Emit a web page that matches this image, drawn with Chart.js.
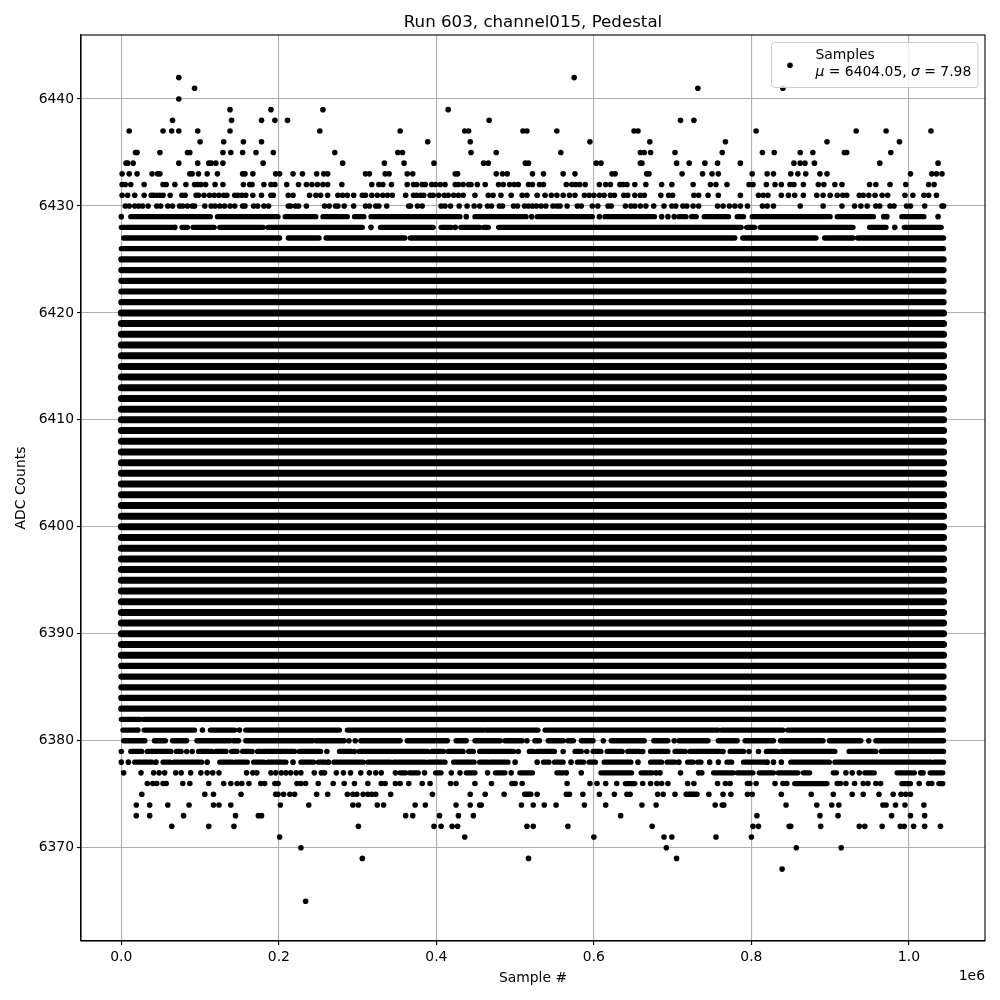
<!DOCTYPE html>
<html>
<head>
<meta charset="utf-8">
<title>Run 603, channel015, Pedestal</title>
<script src="https://cdn.jsdelivr.net/npm/chart.js@4/dist/chart.umd.js"></script>
<style>
  html, body { margin: 0; padding: 0; background: #fff; }
  canvas { display: block; }
</style>
</head>
<body>
<canvas id="chart" width="1000" height="1000"></canvas>
<script>
// x values are in thousands of samples, a plain number is one sample, a pair is an unbroken run
const adc6442 = [73, 575];
const adc6441 = [93, 732, 840];
const adc6440 = [73];
const adc6439 = [138, 190, 256, 415];
const adc6438 = [65, 140, 178, 195, 211, 467, 710, 727];
const adc6437 = [10, 53, 64, 73, 97, 138, 252, 354, 436, 441, 510, 515, 553, 651, 656, 806, 933, 971, 1028];
const adc6436 = [100, 130, 155, 178, 389, 443, 595, 671, 767, 896, 988];
const adc6435 = [18, 20, 49, 84, 87, 129, 139, 154, 171, 193, 271, 351, 357, 444, 476, 558, 659, 664, 672, 703, 763, 814, 829, 862, 878, 918, 921, 977];
const adc6434 = [6, 8, 15, 73, 97, 111, 114, 120, 129, 180, 281, 334, 359, 397, 460, 466, 513, 517, 603, 609, 659, 661, 705, 721, 741, 757, 786, 854, 862, 868, 880, 963, 1037];
const adc6433 = [1, 10, 20, 39, 46, 49, 87, 90, 98, 109, 122, 154, 157, 167, 196, 201, 218, 230, 248, 257, 262, 310, 315, 335, 340, 363, 370, 424, 427, 476, 484, 490, 522, 536, 561, 576, 623, 627, 667, 670, 712, 738, 750, 758, 801, 820, 828, 850, 859, 869, 887, 896, 1002, 1029, 1035, 1042];
const adc6432 = [1, 5, 12, 29, 53, 57, 68, 82, 93, 97, 101, 107, 119, 129, 155, 163, 166, 181, 190, 195, 210, 225, 235, 242, 249, 256, 262, 280, 318, 327, 332, 343, 363, 371, 375, 382, 386, 394, 399, 405, 411, 424, 428, 434, 441, 444, 452, 462, 479, 485, 493, 499, 504, 517, 522, 531, 536, 565, 572, 577, 582, 589, 607, 615, 621, 633, 637, 642, 652, 666, 686, 699, 726, 748, 755, 769, 797, 802, 819, 830, 838, 849, 854, 866, 885, 892, 906, 915, 950, 958, 976, 996, 1025, 1032];
const adc6431 = [1, 8, 17, 29, 38, 41, 45, 49, 53, 62, 77, 81, 95, 98, 105, 112, 118, 124, 130, 134, 144, 148, 153, 158, 167, 178, 190, 193, 212, 218, 239, 247, 253, 262, 275, 281, 287, 295, 306, 310, 318, 325, 332, 338, 344, 361, 371, 375, 380, 384, 392, 396, 403, 410, 415, 422, 428, 434, 449, 466, 472, 482, 495, 509, 515, 528, 538, 546, 553, 561, 569, 576, 588, 594, 600, 607, 613, 621, 626, 638, 643, 652, 659, 664, 685, 695, 700, 727, 733, 745, 758, 786, 809, 815, 821, 838, 847, 855, 866, 883, 891, 900, 909, 916, 921, 937, 942, 949, 957, 966, 973, 995, 1005, 1019, 1025, 1035];
const adc6430 = [5, 10, 17, 22, 27, 34, 45, 50, 59, 65, 74, 78, 84, 90, 93, 106, 114, 119, 125, 131, 138, 144, 154, 157, 168, 173, 181, 187, 212, 215, 221, 225, 235, 258, 264, 272, 275, 283, 295, 310, 315, 323, 327, 337, 365, 367, 376, 382, 406, 411, 418, 429, 439, 448, 455, 465, 470, 480, 484, 498, 503, 512, 517, 522, 527, 533, 539, 548, 553, 557, 566, 579, 584, 598, 605, 618, 622, 640, 647, 652, 659, 666, 676, 689, 699, 704, 713, 718, 726, 733, 757, 764, 772, 779, 786, 795, 814, 820, 828, 862, 891, 915, 931, 939, 947, 958, 963, 976, 981, 997, 1002, 1020, 1042, 1044];
const adc6429 = [0, [12, 113], [122, 199], [208, 247], [256, 287], [296, 308], [317, 430], 438, [449, 514], 521, [528, 598], 607, [614, 677], 686, 694, 702, [708, 717], [724, 730], [740, 771], [782, 790], [801, 900], [909, 955], 968, 972, [991, 1019], 1037];
const adc6428 = [[0, 65], 68, [77, 84], [91, 118], [125, 180], [186, 306], 317, [329, 396], [406, 419], 424, [431, 455], [460, 466], [479, 787], [794, 804], [811, 929], [950, 971], 982, [994, 1041]];
const adc6427 = [[3, 201], [212, 251], [260, 360], [367, 779], [789, 882], [893, 929], [935, 1044]];
const adc6426 = [[0, 1044]];
const adc6382 = [[0, 24], [28, 1044]];
const adc6381 = [[2, 18], 21, [29, 93], 103, [113, 144], 150, [158, 277], [287, 460], [463, 529], [538, 758], [762, 840], [846, 1044]];
const adc6380 = [[3, 30], [42, 56], [65, 83], [96, 138], [142, 149], [158, 243], [247, 283], 289, 297, [304, 354], [363, 414], [425, 438], [449, 481], [487, 509], 515, [525, 531], [542, 561], [567, 574], [584, 599], 612, [622, 664], [676, 694], 702, [708, 745], [758, 782], [792, 828], [837, 891], [899, 939], 949, [958, 1044]];
const adc6379 = [0, [12, 26], [33, 63], [70, 76], 83, 90, [98, 115], [120, 133], [140, 147], [154, 163], 166, [173, 220], [226, 253], 261, [277, 292], 296, [302, 389], [394, 409], [415, 434], [441, 447], [455, 498], 504, [518, 523], [528, 550], 561, [576, 584], 591, [599, 609], [617, 636], [643, 658], 662, [672, 694], [703, 716], [722, 762], 764, [773, 790], 797, 809, [819, 833], [838, 906], [924, 958], [965, 1044]];
const adc6378 = [0, 9, [17, 39], 44, [53, 62], [67, 102], 109, [125, 141], [145, 160], [168, 181], [186, 209], 218, [228, 244], [250, 259], 263, [270, 307], [313, 342], [346, 386], [390, 411], [422, 448], [455, 465], [468, 491], 500, 528, [536, 543], [550, 561], 571, [579, 587], [594, 602], [613, 647], 656, [672, 686], [693, 703], 708, [719, 726], [732, 736], 747, 758, [769, 775], [790, 817], 820, 828, 838, [850, 899], [906, 1028], [1032, 1044]];
const adc6377 = [3, 25, 41, 48, 55, 69, 76, 88, 101, 109, 116, 124, 159, 167, 172, 190, 196, 203, 209, 215, 222, 228, 245, 254, 258, 273, 282, 291, 304, 315, 323, 330, 348, [354, 361], [366, 377], 385, [399, 406], 419, 430, [438, 449], 465, [475, 487], 495, [506, 522], [553, 561], 565, 584, [609, 648], [660, 674], 679, 684, 710, 733, 737, [752, 777], [782, 802], [810, 828], [834, 859], [866, 874], [904, 908], 920, 928, 937, [944, 956], [985, 1007], 1015, 1018, [1027, 1043]];
const adc6376 = [33, 40, 45, 53, 57, 78, 87, 111, 130, 139, 147, 153, 162, 177, 182, 195, 199, 223, 228, 234, 250, 269, 283, 296, 313, 330, 335, 348, 354, 365, 382, 392, 418, 425, 449, 470, 496, 500, 509, 566, 595, 604, 615, 629, [640, 652], 662, 672, 680, 686, 694, 719, 727, 757, 767, 773, 795, 798, 806, 830, 840, 845, [855, 896], 909, 913, 920, 931, 942, 948, 958, 964, [991, 1002], 1013, 1025, 1029, [1038, 1043]];
const adc6375 = [26, 106, 117, 152, 196, 199, 206, 214, 220, 248, 262, 287, 294, 299, 307, 313, 318, 323, 342, 395, 443, 462, 486, [512, 520], 528, 565, 569, 586, 607, 626, 642, 646, 681, 688, 703, [717, 731], 746, 764, 774, 795, 801, 838, 876, 904, 928, 942, 962, 980, 990, 996, 1002];
const adc6374 = [19, 36, 59, 86, 117, 124, 139, 202, 238, 294, 301, 325, 333, 373, 386, 425, 443, 455, 457, 508, 523, 537, 552, 588, 615, 661, 679, 754, 763, 765, 844, 883, 902, 911, 967, 971, 983, 995, 1019];
const adc6373 = [19, 36, 79, 145, 174, 178, 361, 370, 404, 428, 447, 634, 807, 887, 910, 978, 1002, 1020];
const adc6372 = [64, 111, 143, 301, 397, 406, 420, 427, 515, 523, 567, 674, 802, 809, 848, 850, 888, 937, 944, 966, 989, 994, 1006, 1020, 1040];
const adc6371 = [201, 436, 600, 689, 699, 755, 800];
const adc6370 = [228, 692, 857, 914];
const adc6369 = [306, 517, 705];
const adc6368 = [839];
const adc6365 = [234];

const sparseLevels = [6442, 6441, 6440, 6439, 6438, 6437, 6436, 6435, 6434, 6433, 6432, 6431, 6430, 6429, 6428, 6427, 6426, 6382, 6381, 6380, 6379, 6378, 6377, 6376, 6375, 6374, 6373, 6372, 6371, 6370, 6369, 6368, 6365];
const sparseSamples = [adc6442, adc6441, adc6440, adc6439, adc6438, adc6437, adc6436, adc6435, adc6434, adc6433, adc6432, adc6431, adc6430, adc6429, adc6428, adc6427, adc6426, adc6382, adc6381, adc6380, adc6379, adc6378, adc6377, adc6376, adc6375, adc6374, adc6373, adc6372, adc6371, adc6370, adc6369, adc6368, adc6365];
// rows that are solid from first to last sample; the core rows are overplotted the most and print fatter
const shoulderLevels = [6425, 6424, 6423, 6422, 6421, 6387, 6386, 6385, 6384, 6383];
const coreLevels = [6420, 6419, 6418, 6417, 6416, 6415, 6414, 6413, 6412, 6411, 6410, 6409, 6408, 6407, 6406, 6405, 6404, 6403, 6402, 6401, 6400, 6399, 6398, 6397, 6396, 6395, 6394, 6393, 6392, 6391, 6390, 6389, 6388];
const solidRun = [0, 1044];

const xTicks = [0, 200000, 400000, 600000, 800000, 1000000];
const xTickLabels = ["0.0", "0.2", "0.4", "0.6", "0.8", "1.0"];
const yTicks = [6370, 6380, 6390, 6400, 6410, 6420, 6430, 6440];

const FONT = "'DejaVu Sans', sans-serif";
const FONT_SIZE = 13.9;

function buildPoints() {
  const points = [];
  sparseLevels.forEach((level, i) => {
    sparseSamples[i].forEach((item) => {
      if (!Array.isArray(item)) points.push({ x: item * 1000, y: level });
    });
  });
  return points;
}

function pushRun(runs, pair, level) {
  runs.push({ x: pair[0] * 1000, y: level });
  runs.push({ x: pair[1] * 1000, y: level });
  runs.push({ x: pair[1] * 1000, y: null });
}

function buildSparseRuns() {
  const runs = [];
  sparseLevels.forEach((level, i) => {
    sparseSamples[i].forEach((item) => {
      if (Array.isArray(item)) pushRun(runs, item, level);
    });
  });
  return runs;
}

function buildSolidRuns(levels) {
  const runs = [];
  levels.forEach((level) => pushRun(runs, solidRun, level));
  return runs;
}

function runDataset(label, data, borderWidth) {
  return {
    label,
    data,
    showLine: true,
    spanGaps: false,
    tension: 0,
    pointRadius: 0,
    borderColor: "#000",
    borderWidth,
    borderCapStyle: "round"
  };
}

// spines on all four sides, the 1e6 offset text and the matplotlib style legend
const decorations = {
  id: "decorations",
  afterDatasetsDraw(chart) {
    const { ctx, chartArea } = chart;
    ctx.save();

    ctx.strokeStyle = "#000";
    ctx.lineWidth = 1.1;
    ctx.strokeRect(chartArea.left, chartArea.top, chartArea.right - chartArea.left, chartArea.bottom - chartArea.top);

    ctx.fillStyle = "#000";
    ctx.font = `${FONT_SIZE}px ${FONT}`;
    ctx.textAlign = "right";
    ctx.textBaseline = "middle";
    ctx.fillText("1e6", chartArea.right, 976);

    ctx.beginPath();
    ctx.roundRect(771.5, 42.5, 206.5, 45, 3);
    ctx.fillStyle = "rgba(255,255,255,0.8)";
    ctx.fill();
    ctx.strokeStyle = "#ccc";
    ctx.lineWidth = 1;
    ctx.stroke();

    ctx.fillStyle = "#000";
    ctx.beginPath();
    ctx.arc(790, 65.3, 2.8, 0, Math.PI * 2);
    ctx.fill();

    ctx.textAlign = "left";
    ctx.textBaseline = "alphabetic";
    ctx.fillText("Samples", 815.5, 58.5);
    let x = 815.5;
    [["\u03bc", true], [" = 6404.05, ", false], ["\u03c3", true], [" = 7.98", false]].forEach(([text, italic]) => {
      ctx.font = `${italic ? "italic " : ""}${FONT_SIZE}px ${FONT}`;
      ctx.fillText(text, x, 76);
      x += ctx.measureText(text).width;
    });
    ctx.restore();
  }
};

new Chart(document.getElementById("chart"), {
  type: "scatter",
  data: {
    datasets: [
      {
        label: "Samples",
        data: buildPoints(),
        backgroundColor: "#000",
        borderWidth: 0,
        pointRadius: 2.8
      },
      runDataset("Samples (sparse rows)", buildSparseRuns(), 5.3),
      runDataset("Samples (shoulder rows)", buildSolidRuns(shoulderLevels), 6.2),
      runDataset("Samples (core rows)", buildSolidRuns(coreLevels), 7)
    ]
  },
  options: {
    responsive: false,
    animation: false,
    layout: { padding: { right: 15 } },
    plugins: {
      legend: { display: false },
      tooltip: { enabled: false },
      title: {
        display: true,
        text: "Run 603, channel015, Pedestal",
        color: "#000",
        fullSize: false,
        font: { family: FONT, size: 16.67, weight: "normal" },
        padding: { top: 13, bottom: 2 }
      }
    },
    scales: {
      x: {
        type: "linear",
        min: -51200,
        max: 1096600,
        afterFit: (scale) => { scale.height = 59; },
        afterBuildTicks: (scale) => { scale.ticks = xTicks.map((value) => ({ value })); },
        grid: { color: "#b0b0b0", lineWidth: 1.1, tickColor: "#000", tickLength: 4, tickWidth: 1.1 },
        border: { color: "#000", width: 1.1 },
        ticks: {
          color: "#000",
          padding: 4,
          maxRotation: 0,
          autoSkip: false,
          font: { family: FONT, size: FONT_SIZE },
          callback: (value, index) => xTickLabels[index]
        },
        title: {
          display: true,
          text: "Sample #",
          color: "#000",
          font: { family: FONT, size: FONT_SIZE },
          padding: { top: 0, bottom: 13 }
        }
      },
      y: {
        type: "linear",
        min: 6361.28,
        max: 6445.98,
        afterFit: (scale) => { scale.width = 81; },
        afterBuildTicks: (scale) => { scale.ticks = yTicks.map((value) => ({ value })); },
        grid: { color: "#b0b0b0", lineWidth: 1.1, tickColor: "#000", tickLength: 4, tickWidth: 1.1 },
        border: { color: "#000", width: 1.1 },
        ticks: {
          color: "#000",
          padding: 3,
          autoSkip: false,
          font: { family: FONT, size: FONT_SIZE },
          callback: (value) => String(value)
        },
        title: {
          display: true,
          text: "ADC Counts",
          color: "#000",
          font: { family: FONT, size: FONT_SIZE },
          padding: { top: 13.5, bottom: 0 }
        }
      }
    }
  },
  plugins: [decorations]
});
</script>
</body>
</html>
